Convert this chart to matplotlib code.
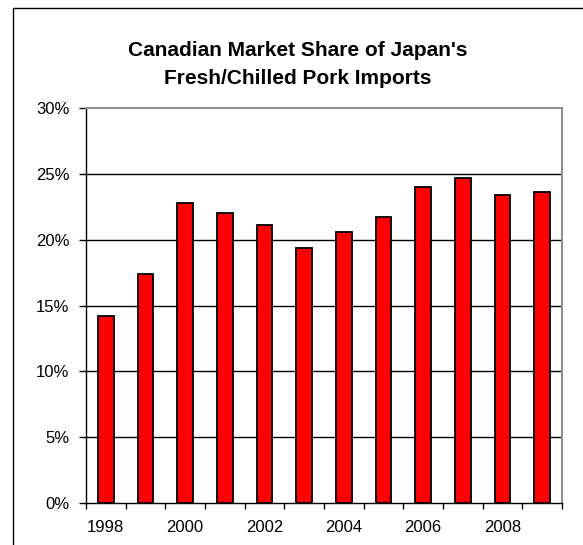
import matplotlib.pyplot as plt
from matplotlib.patches import Rectangle
from matplotlib.ticker import FixedLocator, PercentFormatter

plt.rcParams['font.family'] = ['Liberation Sans', 'DejaVu Sans']

years = [1998, 1999, 2000, 2001, 2002, 2003, 2004, 2005, 2006, 2007, 2008, 2009]
share = [14.2, 17.4, 22.8, 22.0, 21.1, 19.4, 20.6, 21.7, 24.0, 24.7, 23.4, 23.6]
labeled_years = [1998, 2000, 2002, 2004, 2006, 2008]

fig = plt.figure(figsize=(5.83, 5.45), dpi=100)
ax = fig.add_axes([86 / 583, 1 - 503 / 545, 476 / 583, 395 / 545])

# outer chart border (only top and left show in the picture)
fig.patches.append(Rectangle((13 / 583, -0.1), 1.0, 1.1 - 8 / 545,
                             transform=fig.transFigure, fill=False,
                             edgecolor='black', linewidth=1.0))

x = list(range(len(years)))
ax.bar(x, share, width=0.4, color='#ff0000', edgecolor='black', linewidth=1.3, zorder=3)

ax.set_ylim(0, 30)
ax.set_xlim(-0.5, len(years) - 0.5)
ax.set_yticks([0, 5, 10, 15, 20, 25, 30])
ax.yaxis.set_major_formatter(PercentFormatter(decimals=0))
for yv in [5, 10, 15, 20, 25]:
    ax.axhline(yv, color='black', linewidth=1.0, zorder=1)

# year labels under bars, tick marks at category boundaries
ax.set_xticks([years.index(y) for y in labeled_years])
ax.set_xticklabels([str(y) for y in labeled_years])
ax.xaxis.set_minor_locator(FixedLocator([i - 0.5 for i in range(len(years) + 1)]))
ax.tick_params(axis='x', which='major', length=0, pad=12, labelsize=12)
ax.tick_params(axis='x', which='minor', length=4, width=1, color='black', direction='out')
ax.tick_params(axis='y', length=5, width=1, pad=7, labelsize=12)

for side in ['left', 'bottom']:
    ax.spines[side].set_color('black')
    ax.spines[side].set_linewidth(1.0)
for side in ['top', 'right']:
    ax.spines[side].set_color('#909090')
    ax.spines[side].set_linewidth(1.5)

fig.text(298 / 583, 1 - 64 / 545,
         "Canadian Market Share of Japan's\nFresh/Chilled Pork Imports",
         ha='center', va='center', fontsize=15, fontweight='bold', linespacing=1.6)

fig.savefig('out.png', dpi=100)
